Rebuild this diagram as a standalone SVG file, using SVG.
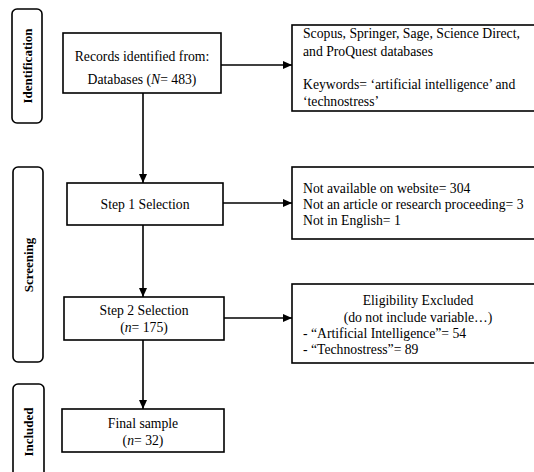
<svg xmlns="http://www.w3.org/2000/svg" width="534" height="472" viewBox="0 0 534 472">
<defs>
<marker id="ah" markerWidth="10" markerHeight="8" refX="9" refY="4" orient="auto" markerUnits="userSpaceOnUse">
<path d="M0,0 L9,4 L0,8 Z" fill="#000"/>
</marker>
<style>
.box{fill:#fff;stroke:#000;stroke-width:1.6}
.side{fill:#fff;stroke:#000;stroke-width:1.6}
.t{font-size:13.7px;fill:#000}
.c{text-anchor:middle}
.b{font-size:13px;font-weight:bold;fill:#000;text-anchor:middle}
.ln{stroke:#000;stroke-width:1.6;fill:none;marker-end:url(#ah)}
</style>
</defs>
<rect width="534" height="472" fill="#fff"/>
<g font-family="Liberation Serif, Times New Roman, Times, serif">
<g id="stage-identification">
<rect class="side" x="12" y="9" width="30" height="114" rx="5"/>
<text class="b" transform="translate(31.5,66) rotate(-90)">Identification</text>
</g>
<g id="stage-screening">
<rect class="side" x="13" y="167" width="30" height="195" rx="5"/>
<text class="b" transform="translate(32.5,265) rotate(-90)">Screening</text>
</g>
<g id="stage-included">
<rect class="side" x="13" y="384" width="31" height="100" rx="5"/>
<text class="b" transform="translate(33,432) rotate(-90)">Included</text>
</g>
<g id="connectors">
<line class="ln" x1="221" y1="65" x2="292" y2="65"/>
<line class="ln" x1="143" y1="93" x2="143" y2="183"/>
<line class="ln" x1="223" y1="203" x2="292" y2="203"/>
<line class="ln" x1="143" y1="225" x2="143" y2="297"/>
<line class="ln" x1="224" y1="318" x2="292" y2="318"/>
<line class="ln" x1="143" y1="340" x2="143" y2="409"/>
</g>
<g id="records">
<rect class="box" x="63" y="33" width="158" height="60"/>
<text class="t c" x="142" y="61">Records identified from:</text>
<text class="t c" x="142" y="84">Databases (<tspan font-style="italic">N</tspan>= 483)</text>
</g>
<g id="databases">
<rect class="box" x="292" y="25" width="246" height="86"/>
<text class="t" x="303" y="38">Scopus, Springer, Sage, Science Direct,</text>
<text class="t" x="303" y="56">and ProQuest databases</text>
<text class="t" x="303" y="89">Keywords= ‘artificial intelligence’ and</text>
<text class="t" x="303" y="106">‘technostress’</text>
</g>
<g id="step1">
<rect class="box" x="67" y="183" width="156" height="42"/>
<text class="t c" x="145" y="208.5">Step 1 Selection</text>
</g>
<g id="excluded1">
<rect class="box" x="292" y="167" width="246" height="72"/>
<text class="t" x="303" y="192.5">Not available on website= 304</text>
<text class="t" x="303" y="208.5">Not an article or research proceeding= 3</text>
<text class="t" x="303" y="224.5">Not in English= 1</text>
</g>
<g id="step2">
<rect class="box" x="64" y="297" width="160" height="43"/>
<text class="t c" x="144" y="315">Step 2 Selection</text>
<text class="t c" x="144" y="332">(<tspan font-style="italic">n</tspan>= 175)</text>
</g>
<g id="excluded2">
<rect class="box" x="292" y="284" width="246" height="79"/>
<text class="t c" x="418" y="304.5">Eligibility Excluded</text>
<text class="t c" x="418" y="321.5">(do not include variable…)</text>
<text class="t" x="303" y="337.5">- “Artificial Intelligence”= 54</text>
<text class="t" x="303" y="353.5">- “Technostress”= 89</text>
</g>
<g id="final">
<rect class="box" x="62" y="409" width="162" height="43"/>
<text class="t c" x="143" y="427.5">Final sample</text>
<text class="t c" x="143" y="444.5">(<tspan font-style="italic">n</tspan>= 32)</text>
</g>
</g>
</svg>
